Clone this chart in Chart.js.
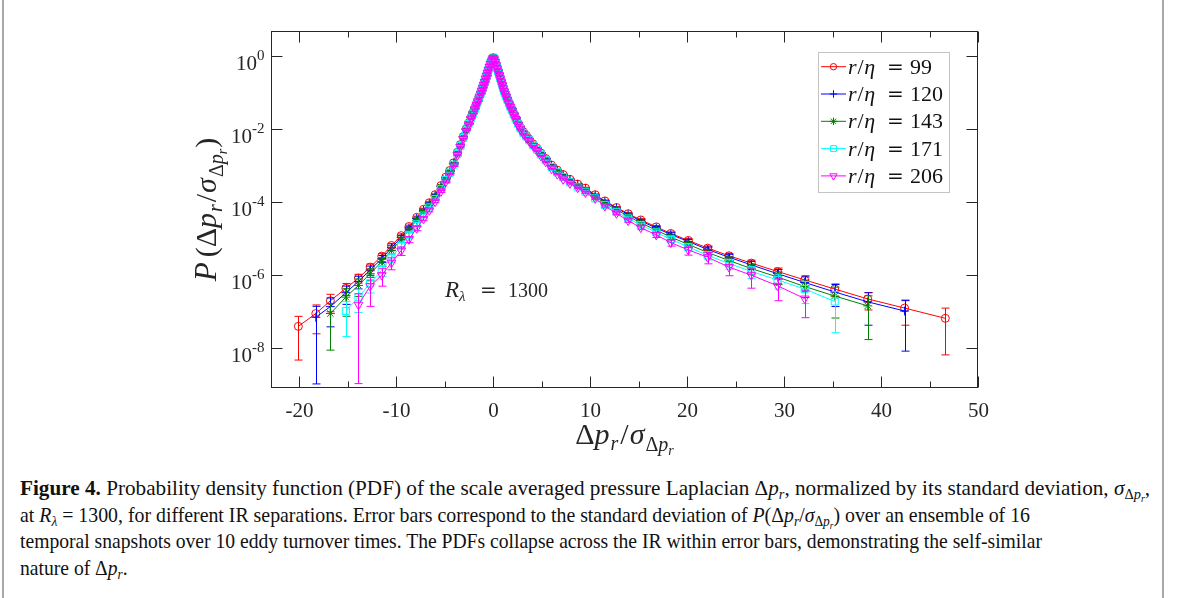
<!DOCTYPE html>
<html>
<head>
<meta charset="utf-8">
<script src="https://cdn.jsdelivr.net/npm/chart.js"></script>
<style>
  html, body { margin: 0; padding: 0; background: #fff; }
  body { width: 1179px; height: 598px; position: relative; overflow: hidden; font-family: "Liberation Serif", serif; }
  #frame { position: absolute; left: 2px; top: 0; width: 1158px; height: 598px; border-left: 2px solid #a8a8a8; border-right: 2px solid #a8a8a8; }
  #plot { position: absolute; left: 0; top: 0; }
  #caption { position: absolute; left: 20px; top: 475px; font-size: 21px; line-height: 26.7px; color: #111; }
  #caption .ln { white-space: nowrap; width: max-content; transform-origin: 0 0; }
  sub { font-size: 0.68em; line-height: 0; vertical-align: -0.3em; }
</style>
</head>
<body>
<div id="frame"></div>
<canvas id="plot" width="1179" height="460"></canvas>
<div id="caption">
  <div class="ln" data-w="1130"><b>Figure 4.</b> Probability density function (PDF) of the scale averaged pressure Laplacian Δ<i>p</i><sub><i>r</i></sub>, normalized by its standard deviation, <i>σ</i><sub>Δ<i>p</i><sub><i>r</i></sub></sub>,</div>
  <div class="ln" data-w="1010">at <i>R</i><sub><i>λ</i></sub> = 1300, for different IR separations. Error bars correspond to the standard deviation of <i>P</i>(Δ<i>p</i><sub><i>r</i></sub>/<i>σ</i><sub>Δ<i>p</i><sub><i>r</i></sub></sub>) over an ensemble of 16</div>
  <div class="ln" data-w="1022">temporal snapshots over 10 eddy turnover times. The PDFs collapse across the IR within error bars, demonstrating the self-similar</div>
  <div class="ln">nature of Δ<i>p</i><sub><i>r</i></sub>.</div>
</div>
<script>
// bin centres shared by all five PDFs (Δp_r / σ)
const xBins = [
  -20.1, -18.3, -16.8, -15.2, -13.9, -12.7, -11.5, -10.5, -9.5, -8.7,
  -7.9, -7.2, -6.6, -6.0, -5.4, -4.9, -4.5, -4.1, -3.7, -3.4,
  -3.1, -2.8, -2.55, -2.3, -2.1, -1.9, -1.75, -1.6, -1.45, -1.3,
  -1.2, -1.1, -1.0, -0.9, -0.8, -0.7, -0.6, -0.5, -0.4, -0.3,
  -0.2, -0.1, 0, 0.1, 0.2, 0.3, 0.4, 0.5, 0.6, 0.7,
  0.8, 0.9, 1.0, 1.1, 1.2, 1.3, 1.45, 1.6, 1.75, 1.9,
  2.1, 2.3, 2.55, 2.8, 3.1, 3.4, 3.7, 4.1, 4.5, 4.9,
  5.4, 6.0, 6.6, 7.2, 7.9, 8.7, 9.5, 10.5, 11.5, 12.7,
  13.9, 15.2, 16.8, 18.3, 20.1, 22.1, 24.3, 26.6, 29.3, 32.1,
  35.2, 38.6, 42.4, 46.6
];

// first bin index of each curve (r/eta = 99, 120, 143, 171, 206)
const seriesStart = [0, 1, 2, 3, 4];
const rEta = ['99', '120', '143', '171', '206'];

// log10 of the PDF
const log99 = [
  -7.40, -7.05, -6.70, -6.36, -6.08, -5.78, -5.48, -5.19, -4.92, -4.67,
  -4.42, -4.20, -4.02, -3.80, -3.55, -3.32, -3.14, -2.93, -2.64, -2.43,
  -2.21, -2.00, -1.84, -1.68, -1.55, -1.42, -1.32, -1.22, -1.12, -1.02,
  -0.94, -0.86, -0.79, -0.71, -0.63, -0.55, -0.47, -0.39, -0.31, -0.23,
  -0.16, -0.10, -0.06, -0.10, -0.17, -0.25, -0.33, -0.41, -0.50, -0.59,
  -0.68, -0.77, -0.86, -0.94, -1.01, -1.08, -1.18, -1.28, -1.37, -1.46,
  -1.58, -1.70, -1.84, -1.96, -2.08, -2.18, -2.28, -2.41, -2.53, -2.66,
  -2.81, -2.99, -3.13, -3.25, -3.38, -3.51, -3.62, -3.80, -3.97, -4.15,
  -4.32, -4.49, -4.68, -4.86, -5.05, -5.26, -5.47, -5.67, -5.90, -6.13,
  -6.38, -6.65, -6.90, -7.18
];
const log120 = [
  -7.15, -6.86, -6.48, -6.17, -5.86, -5.55, -5.25, -4.97, -4.71,
  -4.45, -4.23, -4.04, -3.82, -3.57, -3.33, -3.15, -2.94, -2.65, -2.44,
  -2.22, -2.01, -1.85, -1.69, -1.56, -1.43, -1.33, -1.23, -1.12, -1.02,
  -0.94, -0.86, -0.78, -0.70, -0.62, -0.54, -0.46, -0.38, -0.30, -0.22,
  -0.15, -0.09, -0.05, -0.09, -0.16, -0.24, -0.32, -0.41, -0.50, -0.59,
  -0.68, -0.77, -0.86, -0.94, -1.01, -1.08, -1.18, -1.28, -1.37, -1.46,
  -1.58, -1.70, -1.84, -1.97, -2.09, -2.19, -2.29, -2.42, -2.54, -2.67,
  -2.82, -3.00, -3.14, -3.26, -3.39, -3.52, -3.64, -3.82, -3.99, -4.17,
  -4.34, -4.52, -4.71, -4.89, -5.08, -5.30, -5.51, -5.72, -5.96, -6.20,
  -6.46, -6.73, -6.98
];
const log143 = [
  -7.05, -6.60, -6.28, -5.96, -5.63, -5.32, -5.03, -4.76,
  -4.50, -4.27, -4.07, -3.85, -3.59, -3.35, -3.16, -2.95, -2.66, -2.45,
  -2.23, -2.02, -1.86, -1.70, -1.57, -1.44, -1.33, -1.23, -1.13, -1.03,
  -0.95, -0.86, -0.78, -0.70, -0.62, -0.54, -0.46, -0.38, -0.30, -0.22,
  -0.15, -0.09, -0.05, -0.09, -0.16, -0.24, -0.33, -0.42, -0.51, -0.60,
  -0.69, -0.78, -0.87, -0.95, -1.02, -1.09, -1.19, -1.29, -1.38, -1.47,
  -1.59, -1.71, -1.85, -1.98, -2.10, -2.20, -2.30, -2.43, -2.55, -2.68,
  -2.84, -3.02, -3.16, -3.29, -3.42, -3.55, -3.67, -3.85, -4.03, -4.21,
  -4.39, -4.57, -4.77, -4.96, -5.16, -5.38, -5.60, -5.82, -6.05, -6.31,
  -6.57, -6.84
];
const log171 = [
  -6.98, -6.60, -6.22, -5.86, -5.52, -5.19, -4.90,
  -4.61, -4.37, -4.15, -3.92, -3.65, -3.40, -3.20, -2.98, -2.69, -2.47,
  -2.25, -2.04, -1.87, -1.71, -1.58, -1.45, -1.34, -1.24, -1.13, -1.03,
  -0.95, -0.87, -0.79, -0.71, -0.62, -0.54, -0.46, -0.38, -0.30, -0.22,
  -0.15, -0.09, -0.05, -0.09, -0.16, -0.25, -0.34, -0.43, -0.52, -0.61,
  -0.70, -0.79, -0.88, -0.96, -1.03, -1.10, -1.20, -1.30, -1.39, -1.48,
  -1.60, -1.72, -1.86, -1.99, -2.11, -2.21, -2.31, -2.44, -2.57, -2.70,
  -2.86, -3.04, -3.19, -3.32, -3.46, -3.60, -3.72, -3.90, -4.08, -4.27,
  -4.45, -4.63, -4.83, -5.02, -5.23, -5.46, -5.68, -5.90, -6.13, -6.38,
  -6.72
];
const log206 = [
  -6.81, -6.30, -6.00, -5.66, -5.33, -5.02,
  -4.72, -4.46, -4.23, -3.99, -3.71, -3.45, -3.24, -3.01, -2.72, -2.49,
  -2.27, -2.05, -1.88, -1.72, -1.59, -1.46, -1.35, -1.25, -1.14, -1.04,
  -0.96, -0.88, -0.80, -0.72, -0.63, -0.55, -0.47, -0.39, -0.31, -0.23,
  -0.16, -0.10, -0.06, -0.10, -0.17, -0.26, -0.35, -0.44, -0.53, -0.62,
  -0.71, -0.80, -0.89, -0.97, -1.04, -1.11, -1.21, -1.31, -1.40, -1.49,
  -1.61, -1.73, -1.88, -2.01, -2.13, -2.24, -2.34, -2.47, -2.60, -2.74,
  -2.90, -3.09, -3.24, -3.38, -3.49, -3.61, -3.74, -3.90, -4.11, -4.31,
  -4.51, -4.70, -4.90, -5.11, -5.31, -5.51, -5.78, -6.00, -6.29, -6.64
];

// standard deviation over snapshots, as a fraction of the PDF value
const err99 = [
  0.88, 0.72, 0.50, 0.36, 0.27, 0.21, 0.17, 0.14, 0.11, 0.09,
  0.08, 0.07, 0.06, 0.05, 0.05, 0.04, 0.04, 0.03, 0.03, 0.03,
  0.02, 0.02, 0.02, 0.02, 0.02, 0.02, 0.02, 0.02, 0.02, 0.02,
  0.02, 0.02, 0.01, 0.01, 0.01, 0.01, 0.01, 0.01, 0.01, 0.01,
  0.01, 0.01, 0.01, 0.01, 0.01, 0.01, 0.01, 0.01, 0.01, 0.01,
  0.01, 0.01, 0.01, 0.01, 0.02, 0.02, 0.02, 0.02, 0.02, 0.02,
  0.02, 0.02, 0.02, 0.02, 0.02, 0.02, 0.02, 0.02, 0.03, 0.03,
  0.03, 0.03, 0.03, 0.04, 0.04, 0.04, 0.05, 0.05, 0.06, 0.06,
  0.07, 0.08, 0.09, 0.10, 0.12, 0.14, 0.16, 0.20, 0.24, 0.30,
  0.38, 0.50, 0.66, 0.90
];
const err120 = [
  0.985, 0.72, 0.52, 0.38, 0.28, 0.22, 0.17, 0.14, 0.11,
  0.09, 0.08, 0.07, 0.06, 0.05, 0.05, 0.04, 0.04, 0.03, 0.03,
  0.02, 0.02, 0.02, 0.02, 0.02, 0.02, 0.02, 0.02, 0.02, 0.02,
  0.02, 0.02, 0.01, 0.01, 0.01, 0.01, 0.01, 0.01, 0.01, 0.01,
  0.01, 0.01, 0.01, 0.01, 0.01, 0.01, 0.01, 0.01, 0.01, 0.01,
  0.01, 0.01, 0.01, 0.01, 0.02, 0.02, 0.02, 0.02, 0.02, 0.02,
  0.02, 0.02, 0.02, 0.02, 0.02, 0.02, 0.02, 0.02, 0.03, 0.03,
  0.03, 0.03, 0.04, 0.04, 0.04, 0.05, 0.05, 0.06, 0.06, 0.07,
  0.08, 0.09, 0.10, 0.12, 0.14, 0.17, 0.20, 0.25, 0.30, 0.42,
  0.60, 0.77, 0.92
];
const err143 = [
  0.90, 0.70, 0.50, 0.36, 0.27, 0.21, 0.16, 0.13,
  0.10, 0.09, 0.07, 0.06, 0.05, 0.05, 0.04, 0.04, 0.03, 0.03,
  0.02, 0.02, 0.02, 0.02, 0.02, 0.02, 0.02, 0.02, 0.02, 0.02,
  0.02, 0.02, 0.01, 0.01, 0.01, 0.01, 0.01, 0.01, 0.01, 0.01,
  0.01, 0.01, 0.01, 0.01, 0.01, 0.01, 0.01, 0.01, 0.01, 0.01,
  0.01, 0.01, 0.01, 0.01, 0.02, 0.02, 0.02, 0.02, 0.02, 0.02,
  0.02, 0.02, 0.02, 0.02, 0.02, 0.02, 0.02, 0.03, 0.03, 0.03,
  0.03, 0.03, 0.04, 0.04, 0.05, 0.05, 0.06, 0.06, 0.07, 0.08,
  0.09, 0.10, 0.12, 0.14, 0.17, 0.20, 0.24, 0.30, 0.38, 0.50,
  0.75, 0.88
];
const err171 = [
  0.80, 0.62, 0.46, 0.34, 0.26, 0.20, 0.15,
  0.12, 0.10, 0.08, 0.07, 0.06, 0.05, 0.04, 0.04, 0.03, 0.03,
  0.02, 0.02, 0.02, 0.02, 0.02, 0.02, 0.02, 0.02, 0.02, 0.02,
  0.02, 0.02, 0.01, 0.01, 0.01, 0.01, 0.01, 0.01, 0.01, 0.01,
  0.01, 0.01, 0.01, 0.01, 0.01, 0.01, 0.01, 0.01, 0.01, 0.01,
  0.01, 0.01, 0.01, 0.01, 0.02, 0.02, 0.02, 0.02, 0.02, 0.02,
  0.02, 0.02, 0.02, 0.02, 0.02, 0.02, 0.03, 0.03, 0.03, 0.03,
  0.03, 0.04, 0.04, 0.05, 0.05, 0.06, 0.07, 0.08, 0.09, 0.10,
  0.11, 0.13, 0.15, 0.18, 0.21, 0.25, 0.30, 0.36, 0.44, 0.60,
  0.86
];
const err206 = [
  0.993, 0.72, 0.50, 0.36, 0.26, 0.19,
  0.14, 0.11, 0.09, 0.07, 0.06, 0.05, 0.04, 0.04, 0.03, 0.03,
  0.02, 0.02, 0.02, 0.02, 0.02, 0.02, 0.02, 0.02, 0.02, 0.02,
  0.02, 0.02, 0.01, 0.01, 0.01, 0.01, 0.01, 0.01, 0.01, 0.01,
  0.01, 0.01, 0.01, 0.01, 0.01, 0.01, 0.01, 0.01, 0.01, 0.01,
  0.01, 0.01, 0.01, 0.01, 0.02, 0.02, 0.02, 0.02, 0.02, 0.02,
  0.02, 0.02, 0.02, 0.02, 0.02, 0.02, 0.02, 0.03, 0.03, 0.03,
  0.03, 0.03, 0.03, 0.04, 0.04, 0.05, 0.05, 0.06, 0.07, 0.08,
  0.10, 0.12, 0.15, 0.20, 0.28, 0.34, 0.42, 0.56, 0.61, 0.70
];

const xTickLabels = [-20, -10, 0, 10, 20, 30, 40, 50];
const xMinorTicks = [-15, -5, 5, 15, 25, 35, 45];
const yTickExps = [0, -2, -4, -6, -8];

const seriesLogs = [log99, log120, log143, log171, log206];
const seriesErrs = [err99, err120, err143, err171, err206];
const colors = ['#ff0000', '#0000ff', '#008000', '#00ffff', '#ff00ff'];
const markers = ['circle', 'cross', 'star', 'rect', 'triangle'];
const markerRot = [0, 0, 0, 0, 180];
const markerSize = [4, 4.5, 4.5, 5, 5];

const axisColor = '#262626';
const FONT = '"Liberation Serif", "Times New Roman", serif';
const EQ_FONT = '"DejaVu Serif", serif';

// draws pieces of math text: [text, size, italic, dy, gapAfter, family]
function drawRuns(ctx, runs, x, y, align) {
  const fonts = runs.map((r) => (r[2] ? 'italic ' : '') + r[1] + 'px ' + (r[5] || FONT));
  let total = 0;
  const widths = runs.map((r, i) => {
    ctx.font = fonts[i];
    const w = ctx.measureText(r[0]).width + (r[4] || 0);
    total += w;
    return w;
  });
  let cx = align === 'center' ? x - total / 2 : align === 'right' ? x - total : x;
  runs.forEach((r, i) => {
    ctx.font = fonts[i];
    ctx.fillText(r[0], cx, y + (r[3] || 0));
    cx += widths[i];
  });
}

const errorBars = {
  id: 'errorBars',
  beforeDatasetDraw(chart, args) {
    const ds = chart.data.datasets[args.index];
    const meta = args.meta;
    const { ctx, chartArea: a } = chart;
    const y = chart.scales.y;
    ctx.save();
    ctx.beginPath();
    ctx.rect(a.left, a.top, a.right - a.left, a.bottom - a.top);
    ctx.clip();
    ctx.strokeStyle = ds.borderColor;
    ctx.lineWidth = 1;
    ds.data.forEach((p, i) => {
      const pt = meta.data[i];
      const e = ds.errors[i] * p.y;
      const top = y.getPixelForValue(p.y + e);
      const bot = p.y - e > 0 ? y.getPixelForValue(p.y - e) : a.bottom + 5;
      const px = Math.round(pt.x) + 0.5;
      ctx.beginPath();
      ctx.moveTo(px, top);
      ctx.lineTo(px, bot);
      ctx.moveTo(px - 4, top);
      ctx.lineTo(px + 4, top);
      ctx.moveTo(px - 4, bot);
      ctx.lineTo(px + 4, bot);
      ctx.stroke();
    });
    ctx.restore();
  },
};

const decorations = {
  id: 'decorations',
  afterDraw(chart) {
    const { ctx, chartArea: a } = chart;
    const x = chart.scales.x;
    const y = chart.scales.y;
    const L = Math.round(a.left) + 0.5;
    const R = Math.round(a.right) - 0.5;
    const T = Math.round(a.top) + 0.5;
    const B = Math.round(a.bottom) - 0.5;
    ctx.save();
    ctx.strokeStyle = axisColor;
    ctx.fillStyle = axisColor;
    ctx.lineWidth = 1;
    ctx.strokeRect(L, T, R - L, B - T);

    // x ticks, inward, bottom and top
    const tick = (v, len) => {
      const px = Math.round(x.getPixelForValue(v)) + 0.5;
      ctx.beginPath();
      ctx.moveTo(px, B);
      ctx.lineTo(px, B - len);
      ctx.moveTo(px, T);
      ctx.lineTo(px, T + len);
      ctx.stroke();
      return px;
    };
    ctx.textAlign = 'left';
    ctx.textBaseline = 'alphabetic';
    xMinorTicks.forEach((v) => tick(v, 6));
    xTickLabels.forEach((v) => {
      const px = tick(v, 11);
      drawRuns(ctx, [[String(v), 21, false]], px, 417, 'center');
    });

    // y ticks at even decades, with 10^n labels
    yTickExps.forEach((e) => {
      const py = Math.round(y.getPixelForValue(Math.pow(10, e))) + 0.5;
      ctx.beginPath();
      ctx.moveTo(L, py);
      ctx.lineTo(L + 11, py);
      ctx.moveTo(R, py);
      ctx.lineTo(R - 11, py);
      ctx.stroke();
      const sup = String(e);
      ctx.font = '15px ' + FONT;
      const sw = ctx.measureText(sup).width;
      const edge = L - 7;
      ctx.fillText(sup, edge - sw, py + 3);
      ctx.font = '21px ' + FONT;
      const mw = ctx.measureText('10').width;
      ctx.fillText('10', edge - sw - mw, py + 13.5);
    });

    // axis titles
    drawRuns(ctx, [
      ['Δ', 30, false], ['p', 30, true, 0, 1], ['r', 20, true, 6, 2], ['/', 30, false, 0, 1],
      ['σ', 30, true, 0, 1], ['Δ', 20, false, 7], ['p', 20, true, 7], ['r', 14, true, 11],
    ], (a.left + a.right) / 2, 444, 'center');

    ctx.save();
    ctx.translate(216, (a.top + a.bottom) / 2);
    ctx.rotate(-Math.PI / 2);
    drawRuns(ctx, [
      ['P', 31, true, 0, 5], ['(', 30, false], ['Δ', 30, false], ['p', 30, true, 0, 1],
      ['r', 20, true, 6, 2], ['/', 30, false, 0, 1], ['σ', 30, true, 0, 1], ['Δ', 20, false, 7],
      ['p', 20, true, 7], ['r', 14, true, 11, 1], [')', 30, false],
    ], 0, 0, 'center');
    ctx.restore();

    // Reynolds number annotation
    drawRuns(ctx, [['R', 23, true, 0, 0], ['λ', 15, true, 4]], 445, 297, 'left');
    drawRuns(ctx, [['=', 20, false, 0, 0, EQ_FONT]], 480, 297, 'left');
    drawRuns(ctx, [['1300', 20, false]], 508, 297, 'left');

    // legend
    ctx.fillStyle = '#fff';
    ctx.fillRect(818.5, 52.5, 131, 140);
    ctx.strokeStyle = '#c4c4c4';
    ctx.strokeRect(818.5, 52.5, 131, 140);
    rEta.forEach((label, i) => {
      const cy = 66.7 + i * 27.3;
      ctx.strokeStyle = colors[i];
      ctx.lineWidth = 1;
      ctx.beginPath();
      ctx.moveTo(821, cy);
      ctx.lineTo(846, cy);
      ctx.stroke();
      ctx.fillStyle = 'rgba(0,0,0,0)';
      Chart.helpers.drawPoint(ctx, {
        pointStyle: markers[i], rotation: markerRot[i], radius: markerSize[i] - 0.8, borderWidth: 1,
      }, 833.5, cy);
      ctx.fillStyle = '#111';
      drawRuns(ctx, [['r', 22, true, 0, 1], ['/', 22, false, 0, 0.5], ['η', 22, true]], 848, cy + 7, 'left');
      drawRuns(ctx, [['=', 20, false, 0, 0, EQ_FONT]], 887, cy + 7, 'left');
      drawRuns(ctx, [[label, 22, false]], 910, cy + 7, 'left');
    });
    ctx.restore();
  },
};

const datasets = seriesLogs.map((logs, s) => ({
  label: 'r/η = ' + rEta[s],
  data: logs.map((v, i) => ({ x: xBins[seriesStart[s] + i], y: Math.pow(10, v) })),
  errors: seriesErrs[s],
  borderColor: colors[s],
  backgroundColor: 'rgba(0,0,0,0)',
  pointBorderColor: colors[s],
  pointBackgroundColor: 'rgba(0,0,0,0)',
  borderWidth: 1,
  pointBorderWidth: 1,
  pointRadius: markerSize[s],
  pointStyle: markers[s],
  pointRotation: markerRot[s],
  tension: 0,
  order: 5 - s,
}));

new Chart(document.getElementById('plot'), {
  type: 'line',
  data: { datasets },
  options: {
    responsive: false,
    animation: false,
    events: [],
    layout: { padding: { left: 270.7, right: 200.7, top: 31, bottom: 72 } },
    plugins: { legend: { display: false }, tooltip: { enabled: false } },
    scales: {
      x: { type: 'linear', min: -22.95, max: 50, display: false },
      y: { type: 'logarithmic', min: Math.pow(10, -9.085), max: Math.pow(10, 0.675), display: false },
    },
  },
  plugins: [errorBars, decorations],
});

// squeeze each caption line to the width it has in the figure
let lastScale = 1;
document.querySelectorAll('#caption .ln').forEach((el) => {
  const w = el.getBoundingClientRect().width;
  const s = el.dataset.w ? parseFloat(el.dataset.w) / w : lastScale;
  lastScale = s;
  el.style.transform = 'scaleX(' + s + ')';
});
</script>
</body>
</html>
